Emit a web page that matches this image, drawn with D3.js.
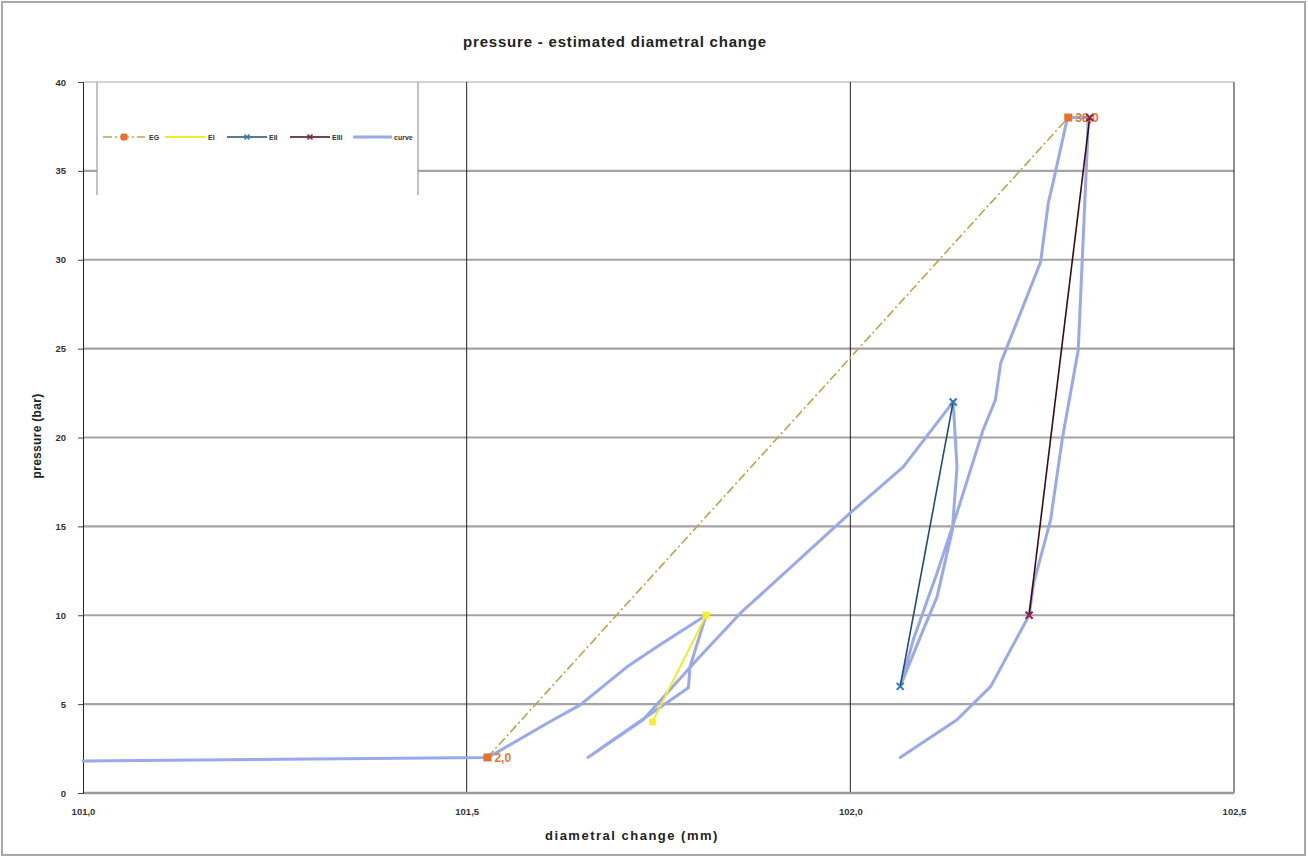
<!DOCTYPE html>
<html>
<head>
<meta charset="utf-8">
<script src="https://cdn.jsdelivr.net/npm/d3@7"></script>
<style>
  html, body { margin: 0; padding: 0; background: #fff; }
  svg { display: block; font-family: "Liberation Sans", Arial, sans-serif; }
</style>
</head>
<body>
<svg id="chart" width="1308" height="859"></svg>
<script>
// Axis ticks
const xTicks = [101.0, 101.5, 102.0, 102.5];
const yTicks = [0, 5, 10, 15, 20, 25, 30, 35, 40];

// Series: diametral change (mm) vs pressure (bar)
const egX = [101.527, 102.284];
const egY = [2.0, 38.0];
const eiX = [101.742, 101.812];
const eiY = [4.0, 10.0];
const eiiX = [102.065, 102.134];
const eiiY = [6.0, 22.0];
const eiiiX = [102.233, 102.312];
const eiiiY = [10.0, 38.0];

const curveX = [101.0, 101.527, 101.540, 101.606, 101.648, 101.709, 101.752, 101.812,
  101.791, 101.789, 101.691, 101.658,
  101.730, 101.800, 101.857, 102.0, 102.069, 102.134,
  102.139, 102.133, 102.113, 102.095, 102.065,
  102.082, 102.113, 102.139, 102.173, 102.189, 102.196, 102.248, 102.258, 102.265, 102.283,
  102.310, 102.309, 102.297, 102.276, 102.261, 102.239, 102.233,
  102.183, 102.139, 102.065];
const curveY = [1.8, 2.0, 2.3, 3.95, 4.96, 7.1, 8.34, 10.0,
  7.1, 5.92, 2.99, 2.0,
  4.12, 7.5, 10.13, 15.76, 18.35, 22.0,
  18.35, 14.8, 11.03, 9.18, 6.0,
  8.62, 12.38, 15.76, 20.43, 22.11, 24.2, 29.88, 33.2, 34.49, 38.0,
  38.0, 36.57, 24.93, 19.86, 15.37, 11.82, 10.0,
  6.0, 4.12, 2.0];

const legendNames = ["EG", "EI", "EII", "EIII", "curve"];
const title = "pressure - estimated diametral change";
const xTitle = "diametral change (mm)";
const yTitle = "pressure (bar)";

const svg = d3.select("#chart");
const W = 1308, H = 859;

const x = d3.scaleLinear().domain([101.0, 102.5]).range([83, 1234]);
const y = d3.scaleLinear().domain([0, 40]).range([793, 82]);

const locale = d3.formatLocale({decimal: ",", thousands: ".", grouping: [3], currency: ["", ""]});
const fmt1 = locale.format(".1f");

// Page frame
svg.append("rect").attr("x", 2).attr("y", 2).attr("width", W - 5).attr("height", H - 6)
  .attr("fill", "#fff").attr("stroke", "#a8a8a8").attr("stroke-width", 2);

// Horizontal grid
svg.append("g").selectAll("line").data(yTicks.filter(d => d > 0)).join("line")
  .attr("x1", x(101.0)).attr("x2", x(102.5))
  .attr("y1", d => y(d)).attr("y2", d => y(d))
  .attr("stroke", d => d === 40 ? "#c4c4c4" : "#a4a4a4")
  .attr("stroke-width", d => d === 40 ? 1.5 : 2.2);

// Vertical grid
svg.append("g").selectAll("line").data(xTicks.filter(d => d > 101)).join("line")
  .attr("x1", d => x(d)).attr("x2", d => x(d))
  .attr("y1", y(40)).attr("y2", y(0))
  .attr("stroke", "#222").attr("stroke-width", 1);

// X axis baseline
svg.append("line").attr("x1", x(101)).attr("x2", x(102.5)).attr("y1", y(0)).attr("y2", y(0))
  .attr("stroke", "#999").attr("stroke-width", 2.5);

// Y axis
const yAxis = svg.append("g").attr("transform", `translate(${x(101)},0)`)
  .call(d3.axisLeft(y).tickValues(yTicks).tickSize(5).tickPadding(12).tickFormat(d3.format("d")));
yAxis.select(".domain").attr("stroke", "#222");
yAxis.selectAll(".tick line").attr("stroke", "#444");
yAxis.selectAll(".tick text").attr("font-size", 9.5).attr("font-weight", "bold").attr("fill", "#333");

// X axis labels
const xAxis = svg.append("g").attr("transform", `translate(0,${y(0)})`)
  .call(d3.axisBottom(x).tickValues(xTicks).tickSize(0).tickPadding(15).tickFormat(fmt1));
xAxis.select(".domain").remove();
xAxis.selectAll(".tick text").attr("font-size", 9.5).attr("font-weight", "bold").attr("fill", "#333");

// Titles
svg.append("text").attr("x", 615).attr("y", 47).attr("text-anchor", "middle")
  .attr("font-size", 15).attr("letter-spacing", 0.8).attr("font-weight", "bold").attr("fill", "#222").text(title);
svg.append("text").attr("x", 632).attr("y", 840).attr("text-anchor", "middle")
  .attr("font-size", 13).attr("letter-spacing", 1.5).attr("font-weight", "bold").attr("fill", "#222").text(xTitle);
svg.append("text").attr("transform", "translate(41,436) rotate(-90)").attr("text-anchor", "middle")
  .attr("font-size", 12).attr("letter-spacing", 0.3).attr("font-weight", "bold").attr("fill", "#222").text(yTitle);

// Legend box (covers the grid beneath it)
svg.append("rect").attr("x", 97).attr("y", 83).attr("width", 321).attr("height", 112).attr("fill", "#fff");
svg.append("line").attr("x1", 97).attr("x2", 97).attr("y1", 82).attr("y2", 195).attr("stroke", "#999").attr("stroke-width", 1.2);
svg.append("line").attr("x1", 418).attr("x2", 418).attr("y1", 82).attr("y2", 195).attr("stroke", "#999").attr("stroke-width", 1.2);

const line = d3.line().x(d => x(d[0])).y(d => y(d[1]));
const zip = (a, b) => a.map((v, i) => [v, b[i]]);

const crossPath = s => `M${-s},${-s}L${s},${s}M${-s},${s}L${s},${-s}`;

// curve
svg.append("path").datum(zip(curveX, curveY)).attr("d", line)
  .attr("fill", "none").attr("stroke", "#9aa9ea").attr("stroke-width", 3)
  .attr("stroke-linejoin", "round").attr("stroke-linecap", "round");

// EG
svg.append("path").datum(zip(egX, egY)).attr("d", line)
  .attr("fill", "none").attr("stroke", "#bfa24a").attr("stroke-width", 1.6)
  .attr("stroke-dasharray", "9,3,2,3");
// EI
svg.append("path").datum(zip(eiX, eiY)).attr("d", line)
  .attr("fill", "none").attr("stroke", "#f2ea2a").attr("stroke-width", 2);
// EII
svg.append("path").datum(zip(eiiX, eiiY)).attr("d", line)
  .attr("fill", "none").attr("stroke", "#1d4f6e").attr("stroke-width", 1.6);
// EIII
svg.append("path").datum(zip(eiiiX, eiiiY)).attr("d", line)
  .attr("fill", "none").attr("stroke", "#3a0c14").attr("stroke-width", 1.6);

// Markers
svg.append("g").selectAll("rect").data(zip(eiX, eiY)).join("rect")
  .attr("x", d => x(d[0]) - 3.5).attr("y", d => y(d[1]) - 3.5).attr("width", 7).attr("height", 7)
  .attr("fill", "#f4f02c");
svg.append("g").selectAll("path").data(zip(eiiX, eiiY)).join("path")
  .attr("transform", d => `translate(${x(d[0])},${y(d[1])})`).attr("d", crossPath(3.5))
  .attr("stroke", "#2f79b8").attr("stroke-width", 2).attr("fill", "none");
svg.append("g").selectAll("rect").data(zip(egX, egY)).join("rect")
  .attr("x", d => x(d[0]) - 4).attr("y", d => y(d[1]) - 4).attr("width", 8).attr("height", 8)
  .attr("fill", "#e8702a");

// EG value labels
svg.append("g").selectAll("text").data(zip(egX, egY)).join("text")
  .attr("x", d => x(d[0]) + 7).attr("y", d => y(d[1]) + 4.5)
  .attr("font-size", 12).attr("font-weight", "bold").attr("fill", "#e07a36")
  .text(d => fmt1(d[1]));

// EIII markers sit on top of the EG label
svg.append("g").selectAll("path").data(zip(eiiiX, eiiiY)).join("path")
  .attr("transform", d => `translate(${x(d[0])},${y(d[1])})`).attr("d", crossPath(3.5))
  .attr("stroke", "#8c2244").attr("stroke-width", 2).attr("fill", "none");

// Legend
const ly = 137;
const lg = svg.append("g");
const items = [
  {x0: 103, x1: 145, tx: 149, color: "#bfa24a", dash: "9,3,2,3", marker: "sq", mcol: "#e8702a", lw: 1.6},
  {x0: 165, x1: 205, tx: 208, color: "#f2ea2a", dash: null, marker: null, lw: 2},
  {x0: 227, x1: 267, tx: 269, color: "#1d4f6e", dash: null, marker: "x", mcol: "#2f79b8", lw: 1.4},
  {x0: 290, x1: 330, tx: 332, color: "#3a0c14", dash: null, marker: "x", mcol: "#8c2244", lw: 1.4},
  {x0: 353, x1: 392, tx: 394, color: "#9aa9ea", dash: null, marker: null, lw: 3}
];
items.forEach((it, i) => {
  lg.append("line").attr("x1", it.x0).attr("x2", it.x1).attr("y1", ly).attr("y2", ly)
    .attr("stroke", it.color).attr("stroke-width", it.lw).attr("stroke-dasharray", it.dash);
  const mx = (it.x0 + it.x1) / 2;
  if (it.marker === "sq") {
    lg.append("rect").attr("x", mx - 3.5).attr("y", ly - 3.5).attr("width", 7).attr("height", 7)
      .attr("rx", 2).attr("fill", it.mcol);
  } else if (it.marker === "x") {
    lg.append("path").attr("transform", `translate(${mx},${ly})`).attr("d", crossPath(2.5))
      .attr("stroke", it.mcol).attr("stroke-width", 1.6);
  }
  lg.append("text").attr("x", it.tx).attr("y", ly + 3).attr("font-size", 7).attr("font-weight", "bold")
    .attr("fill", "#333").text(legendNames[i]);
});
</script>
</body>
</html>
